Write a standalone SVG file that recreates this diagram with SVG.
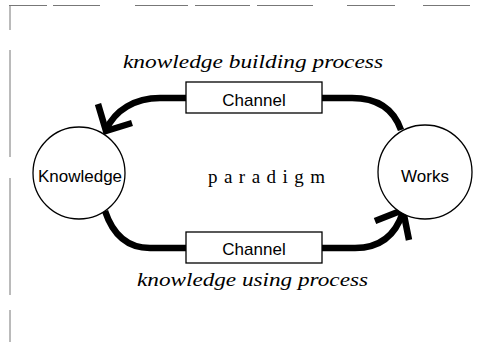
<svg xmlns="http://www.w3.org/2000/svg" width="492" height="342" viewBox="0 0 492 342">
<style>
.frame{stroke:#777;stroke-width:1;fill:none}
.node{fill:#fff;stroke:#000;stroke-width:1.3}
.conn{fill:none;stroke:#000;stroke-width:6.5;stroke-linecap:butt;stroke-linejoin:miter}
.sans{font-family:"Liberation Sans",Arial,sans-serif;font-size:17px;fill:#000}
.ital{font-family:"Liberation Serif","Times New Roman",serif;font-style:italic;font-size:19px;fill:#000}
.serif{font-family:"Liberation Serif","Times New Roman",serif;font-size:19px;fill:#000}
</style>
<rect width="492" height="342" fill="#fff"/>
<g id="frame" class="frame">
<path d="M9,5.5H47M53,5.5H100M135,5.5H188M195,5.5H250M257,5.5H313M347,5.5H395M423,5.5H470"/>
<path d="M10,6V30M10,50V157M10,178V295M10,310V342"/>
</g>
<g id="connectors" class="conn">
<path d="M186,98 L160,98 C135,98 115,110 106,130"/>
<path d="M98,104 L106,131 L132,123"/>
<path d="M322,98 L352,98 C378,98 394,110 401,130"/>
<path d="M105,211 C112,232 125,248 150,248 L186,248"/>
<path d="M322,248 L355,248 C382,248 396,234 403,212"/>
<path d="M375,221 L403,210 L409,240"/>
</g>
<g id="knowledge">
<circle class="node" cx="79" cy="173" r="46"/>
<text class="sans" x="80" y="182" text-anchor="middle">Knowledge</text>
</g>
<g id="works">
<circle class="node" cx="425" cy="172" r="47"/>
<text class="sans" x="425" y="182" text-anchor="middle">Works</text>
</g>
<g id="channel-top">
<rect class="node" x="186" y="82" width="136" height="31"/>
<text class="sans" x="254" y="106" text-anchor="middle">Channel</text>
</g>
<g id="channel-bottom">
<rect class="node" x="186" y="232" width="136" height="31"/>
<text class="sans" x="254" y="255" text-anchor="middle">Channel</text>
</g>
<g id="labels">
<text class="ital" x="123" y="68" textLength="260" lengthAdjust="spacingAndGlyphs">knowledge building process</text>
<text class="ital" x="137" y="286" textLength="231" lengthAdjust="spacingAndGlyphs">knowledge using process</text>
<text class="serif" x="208" y="183" textLength="117" lengthAdjust="spacing">paradigm</text>
</g>
</svg>
